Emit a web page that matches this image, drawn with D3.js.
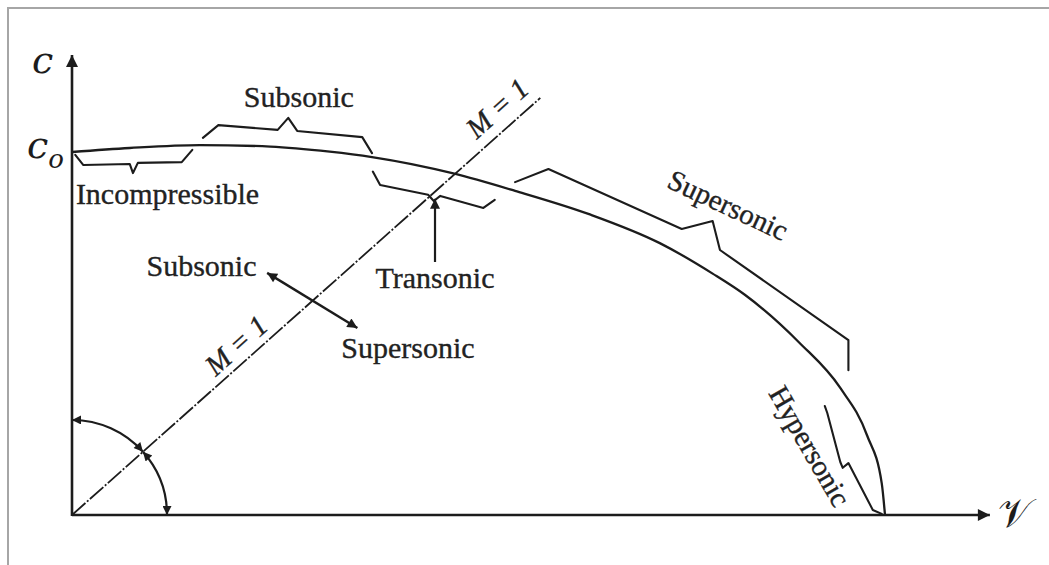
<!DOCTYPE html>
<html>
<head>
<meta charset="utf-8">
<script src="https://cdn.jsdelivr.net/npm/d3@7"></script>
<style>
  html, body { margin: 0; padding: 0; background: #fff; }
  svg { display: block; }
</style>
</head>
<body>
<svg id="chart" width="1049" height="565"></svg>
<script>
// Adiabatic ellipse: speed of sound c (as c / c0) against flow velocity V (as V / Vmax).
const curveV = [0, 0.071, 0.157, 0.244, 0.317, 0.369, 0.469, 0.545, 0.637, 0.723, 0.788, 0.828, 0.895, 0.945, 0.978, 0.996, 1.0];
const curveC = [1.000, 1.011, 1.019, 1.015, 1.001, 0.986, 0.941, 0.893, 0.828, 0.749, 0.665, 0.606, 0.474, 0.350, 0.219, 0.087, 0.0];

// Sonic line M = 1 through the origin: [V, c] end points.
const sonicLine = [[0, 0], [0.576, 1.149]];

// Braces marking the flow regimes along the ellipse: [V, c] vertices.
const braceIncompressible = [[0.004, 0.992], [0.014, 0.964], [0.071, 0.967], [0.075, 0.942], [0.081, 0.970], [0.135, 0.972], [0.148, 1.006]];
const braceSubsonic = [[0.161, 1.039], [0.180, 1.074], [0.253, 1.061], [0.266, 1.094], [0.277, 1.058], [0.357, 1.041], [0.369, 0.997]];
const braceTransonic = [[0.370, 0.946], [0.379, 0.909], [0.438, 0.882], [0.445, 0.865], [0.453, 0.879], [0.506, 0.846], [0.520, 0.868]];
const braceSupersonic = [[0.545, 0.917], [0.586, 0.953], [0.750, 0.788], [0.788, 0.810], [0.797, 0.730], [0.955, 0.482], [0.955, 0.399]];
const braceHypersonic = [[0.926, 0.300], [0.929, 0.281], [0.945, 0.146], [0.948, 0.130], [0.955, 0.143], [0.985, 0.014], [0.996, 0.003]];

// Pointer to the transonic brace and the double arrow across the sonic line.
const transonicPointer = [[0.4465, 0.697], [0.4465, 0.871]];
const crossArrow = [[0.240, 0.667], [0.351, 0.515]];

// Axis extents (beyond the ellipse) in the same normalised units.
const axisExtentV = 1.129;
const axisExtentC = 1.267;

const labelIncompressible = "Incompressible";
const labelSubsonic = "Subsonic";
const labelTransonic = "Transonic";
const labelSupersonic = "Supersonic";
const labelHypersonic = "Hypersonic";
const labelSonic = "M = 1";

const svg = d3.select("#chart");
const W = 1049, H = 565;

const x = d3.scaleLinear().domain([0, 1]).range([72, 885]);
const y = d3.scaleLinear().domain([0, 1]).range([515, 152]);

const ink = "#1c1c1c";
const serif = "'Liberation Serif', 'Times New Roman', serif";

// Frame
svg.append("path")
  .attr("d", `M8,${H} L8,8 L${W},8`)
  .attr("fill", "none")
  .attr("stroke", "#a6a6a6")
  .attr("stroke-width", 2);

// Arrowhead markers
const defs = svg.append("defs");
function marker(id, len, wid) {
  defs.append("marker")
    .attr("id", id)
    .attr("viewBox", "0 0 10 10")
    .attr("refX", 10).attr("refY", 5)
    .attr("markerUnits", "userSpaceOnUse")
    .attr("markerWidth", len).attr("markerHeight", wid)
    .attr("orient", "auto-start-reverse")
    .append("path")
    .attr("d", "M0,0 L10,5 L0,10 Z")
    .attr("fill", ink);
}
marker("axisHead", 18, 12);
marker("head", 15, 10);
marker("arcHead", 12, 9);

const line = d3.line().x(d => x(d[0])).y(d => y(d[1]));

// Axes
svg.append("line")
  .attr("x1", x(0)).attr("y1", y(0))
  .attr("x2", x(axisExtentV)).attr("y2", y(0))
  .attr("stroke", ink).attr("stroke-width", 2.6)
  .attr("marker-end", "url(#axisHead)");
svg.append("line")
  .attr("x1", x(0)).attr("y1", y(0) + 1)
  .attr("x2", x(0)).attr("y2", y(axisExtentC))
  .attr("stroke", ink).attr("stroke-width", 2.6)
  .attr("marker-end", "url(#axisHead)");

// Ellipse
const curvePts = curveV.map((v, i) => [v, curveC[i]]);
svg.append("path")
  .datum(curvePts)
  .attr("d", d3.line().x(d => x(d[0])).y(d => y(d[1])).curve(d3.curveMonotoneX))
  .attr("fill", "none")
  .attr("stroke", ink)
  .attr("stroke-width", 2.3);

// Sonic line (dash-dot)
svg.append("path")
  .datum(sonicLine)
  .attr("d", line)
  .attr("fill", "none")
  .attr("stroke", ink)
  .attr("stroke-width", 1.8)
  .attr("stroke-dasharray", "18,2,2,2");

// Regime braces
[braceIncompressible, braceSubsonic, braceTransonic, braceSupersonic, braceHypersonic].forEach(b => {
  svg.append("path")
    .datum(b)
    .attr("d", line)
    .attr("fill", "none")
    .attr("stroke", ink)
    .attr("stroke-width", 2.1)
    .attr("stroke-linejoin", "round")
    .attr("stroke-linecap", "round");
});

// Pointer and double arrow
svg.append("path").datum(transonicPointer).attr("d", line)
  .attr("stroke", ink).attr("stroke-width", 2.2).attr("fill", "none")
  .attr("marker-end", "url(#head)");
svg.append("path").datum(crossArrow).attr("d", line)
  .attr("stroke", ink).attr("stroke-width", 2.4).attr("fill", "none")
  .attr("marker-start", "url(#head)")
  .attr("marker-end", "url(#head)");

// Angle arcs between the axes and the sonic line
const ox = x(0), oy = y(0), r = 95;
const sonicAngle = -Math.atan2(y(0) - y(sonicLine[1][1]), x(sonicLine[1][0]) - x(0));
function arcPath(a0, a1) {
  const p = d3.path();
  p.moveTo(ox + r * Math.cos(a0), oy + r * Math.sin(a0));
  p.arc(ox, oy, r, a0, a1, false);
  return p.toString();
}
[[-Math.PI / 2, sonicAngle], [sonicAngle, 0]].forEach(([a0, a1]) => {
  svg.append("path")
    .attr("d", arcPath(a0, a1))
    .attr("fill", "none")
    .attr("stroke", ink)
    .attr("stroke-width", 2.2)
    .attr("marker-start", "url(#arcHead)")
    .attr("marker-end", "url(#arcHead)");
});

// Regime labels
function label(text, v, c, opts = {}) {
  const t = svg.append("text")
    .attr("x", x(v)).attr("y", y(c))
    .attr("text-anchor", "middle")
    .attr("font-family", serif)
    .attr("font-size", opts.size || 30)
    .attr("fill", "#222")
    .attr("stroke", "#222")
    .attr("stroke-width", 0.35)
    .text(text);
  if (opts.italic) t.attr("font-style", "italic");
  if (opts.central) t.attr("dominant-baseline", "central");
  if (opts.rotate) t.attr("transform", `rotate(${opts.rotate},${x(v)},${y(c)})`);
  return t;
}
label(labelSubsonic, 0.279, 1.124);
label(labelIncompressible, 0.1175, 0.857);
label(labelTransonic, 0.4465, 0.625);
label(labelSubsonic, 0.1593, 0.658);
label(labelSupersonic, 0.4133, 0.4325);
label(labelSupersonic, 0.807, 0.854, { rotate: 25, central: true, size: 29 });
label(labelHypersonic, 0.9077, 0.190, { rotate: 60, central: true, size: 29 });
label(labelSonic, 0.5228, 1.121, { rotate: -42, central: true, italic: true, size: 29 });
label(labelSonic, 0.2017, 0.468, { rotate: -42, central: true, italic: true, size: 29 });

// Axis symbols
const mathFont = "'DejaVu Serif', serif";
svg.append("text")
  .attr("x", x(0) - 40).attr("y", y(axisExtentC) + 18)
  .attr("font-family", mathFont).attr("font-style", "italic")
  .attr("font-size", 38).attr("fill", ink)
  .text("c");
const c0 = svg.append("text")
  .attr("x", x(0) - 45).attr("y", y(1) + 6)
  .attr("font-family", mathFont).attr("font-style", "italic")
  .attr("font-size", 38).attr("fill", ink);
c0.append("tspan").text("c");
c0.append("tspan").attr("dy", 10).attr("font-size", 26).text("o");
svg.append("text")
  .attr("x", x(axisExtentV) + 8).attr("y", y(0) + 12)
  .attr("font-family", mathFont)
  .attr("font-size", 40).attr("fill", ink)
  .text("𝒱");
</script>
</body>
</html>
